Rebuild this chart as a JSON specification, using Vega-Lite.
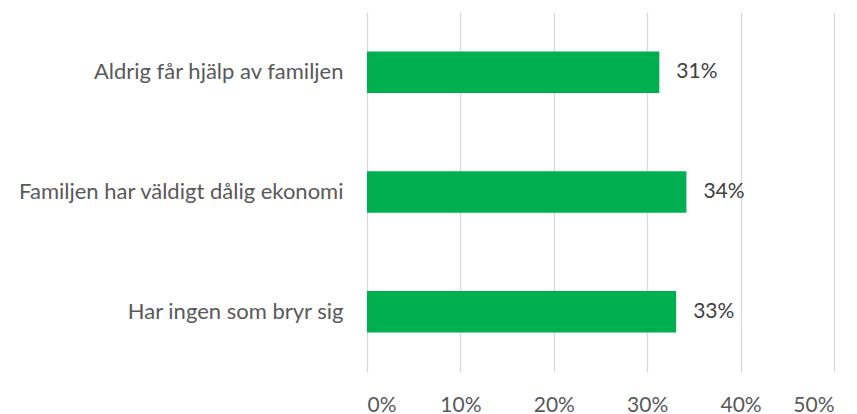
{
  "$schema": "https://vega.github.io/schema/vega-lite/v6.json",
  "width": 467,
  "height": 360,
  "autosize": {"type": "none"},
  "padding": {"left": 367, "top": 12, "right": 23, "bottom": 42},
  "background": "white",
  "config": {"view": {"stroke": null}, "font": "Lato"},
  "data": {"values": [
    {"kategori": "Aldrig får hjälp av familjen", "andel": 0.313, "etikett": "31%"},
    {"kategori": "Familjen har väldigt dålig ekonomi", "andel": 0.342, "etikett": "34%"},
    {"kategori": "Har ingen som bryr sig", "andel": 0.331, "etikett": "33%"}
  ]},
  "encoding": {
    "y": {"field": "kategori", "type": "nominal", "sort": null,
      "scale": {"paddingInner": 0.653, "paddingOuter": 0.33},
      "axis": {"title": null, "domain": false, "ticks": false, "labelPadding": 24, "labelFontSize": 22, "labelColor": "#595959", "labelFont": "Lato", "labelLimit": 400}},
    "x": {"field": "andel", "type": "quantitative",
      "scale": {"domain": [0, 0.5], "nice": false},
      "axis": {"title": null, "format": ".0%", "values": [0, 0.1, 0.2, 0.3, 0.4, 0.5], "domain": false, "ticks": false, "labelPadding": 22, "labelFontSize": 21, "labelColor": "#595959", "gridColor": "#d9d9d9", "gridWidth": 1.3}}
  },
  "layer": [
    {"mark": {"type": "bar", "color": "#00b050"}},
    {"mark": {"type": "text", "align": "left", "dx": 17, "fontSize": 21, "color": "#404040", "font": "Lato"},
     "encoding": {"text": {"field": "etikett"}}}
  ]
}
